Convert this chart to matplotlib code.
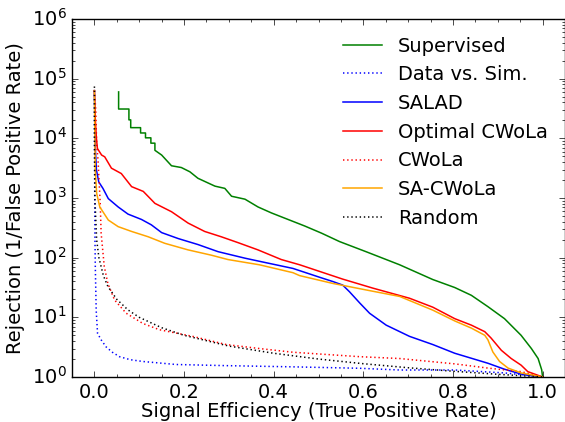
import numpy as np
import matplotlib
matplotlib.use("Agg")
import matplotlib.pyplot as plt
from matplotlib.ticker import MultipleLocator, LogLocator

# ---- data ----
sup_x = [0.054, 0.054, 0.077, 0.077, 0.081, 0.081, 0.103, 0.103, 0.114, 0.114,
         0.126, 0.126, 0.135, 0.135, 0.150, 0.172, 0.194, 0.213, 0.231, 0.254,
         0.269, 0.291, 0.306, 0.336, 0.365, 0.395, 0.432, 0.469, 0.507, 0.547,
         0.606, 0.681, 0.755, 0.804, 0.841, 0.878, 0.915, 0.952, 0.975, 0.990,
         0.998, 1.0]
sup_y = [60000, 31000, 31000, 20400, 20400, 15100, 15100, 12300, 12300, 10200,
         10200, 8300, 8300, 6300, 5250, 3470, 3240, 2750, 2140, 1780,
         1580, 1450, 1070, 955, 708, 562, 437, 340, 257, 186,
         126, 76, 43, 31.6, 23.4, 15.1, 9.5, 5.0, 3.0, 2.04,
         1.32, 1.0]

dvs_x = [0.0, 0.0005, 0.001, 0.002, 0.004, 0.007, 0.015, 0.026, 0.040, 0.056,
         0.080, 0.108, 0.182, 0.294, 0.443, 0.592, 0.681, 0.804, 0.915, 0.975, 1.0]
dvs_y = [63000, 3000, 300, 70, 13, 5.4, 4.2, 3.2, 2.6, 2.19,
         1.95, 1.82, 1.62, 1.55, 1.48, 1.40, 1.31, 1.31, 1.17, 1.05, 1.0]

salad_x = [0.0, 0.002, 0.0045, 0.0097, 0.019, 0.031, 0.053, 0.075, 0.105, 0.127,
           0.150, 0.187, 0.231, 0.276, 0.336, 0.368, 0.443, 0.503, 0.532, 0.554,
           0.569, 0.592, 0.614, 0.651, 0.703, 0.755, 0.804, 0.878, 0.915, 0.952, 1.0]
salad_y = [63000, 6760, 2950, 1860, 1450, 977, 708, 537, 437, 355,
           263, 209, 166, 126, 98, 87, 66, 46.8, 39.8, 34.7,
           26.9, 17.4, 11.7, 7.4, 4.8, 3.5, 2.5, 1.7, 1.35, 1.12, 1.0]

ocw_x = [0.0, 0.002, 0.0045, 0.0067, 0.016, 0.023, 0.038, 0.060, 0.083, 0.109,
         0.135, 0.172, 0.209, 0.246, 0.283, 0.321, 0.365, 0.417, 0.458, 0.554,
         0.621, 0.703, 0.755, 0.804, 0.841, 0.871, 0.885, 0.908, 0.930, 0.952,
         0.967, 0.982, 1.0]
ocw_y = [63000, 20400, 10000, 6760, 5250, 4900, 3160, 2570, 1550, 1290,
         813, 589, 380, 275, 224, 178, 135, 93, 76, 43.7,
         30.9, 20.9, 14.8, 9.5, 7.4, 5.75, 4.5, 2.8, 2.04, 1.58,
         1.23, 1.12, 1.0]

cw_x = [0.0, 0.003, 0.005, 0.008, 0.011, 0.013, 0.015, 0.022, 0.030, 0.045,
        0.071, 0.108, 0.145, 0.219, 0.294, 0.368, 0.443, 0.592, 0.681, 0.804,
        0.878, 0.952, 1.0]
cw_y = [63000, 30000, 8000, 4400, 1600, 800, 257, 71, 37, 19.5,
        11.7, 7.9, 6.2, 4.8, 3.5, 3.0, 2.6, 2.19, 2.04, 1.66,
        1.41, 1.23, 1.0]

sacw_x = [0.0, 0.001, 0.002, 0.005, 0.012, 0.031, 0.053, 0.083, 0.120, 0.157,
          0.209, 0.261, 0.298, 0.368, 0.443, 0.458, 0.532, 0.606, 0.681, 0.755,
          0.804, 0.841, 0.871, 0.878, 0.889, 0.904, 0.923, 0.952, 1.0]
sacw_y = [63000, 10000, 2950, 1200, 708, 427, 331, 275, 224, 174,
          135, 110, 93, 76, 56, 50, 37, 28.8, 22.4, 13.2,
          8.7, 6.6, 5.0, 4.2, 2.63, 1.82, 1.41, 1.17, 1.0]

rand_x = [0.0000135, 0.0001, 0.001, 0.005, 0.01, 0.02, 0.03, 0.05, 0.075, 0.1,
          0.15, 0.2, 0.3, 0.4, 0.5, 0.6, 0.7, 0.8, 0.9, 1.0]
rand_y = [74000, 10000, 1000, 200, 100, 50, 33, 20, 13.3, 10,
          6.7, 5, 3.3, 2.5, 2, 1.67, 1.43, 1.25, 1.11, 1.0]

series = [
    ("Supervised", sup_x, sup_y, "green", "-"),
    ("Data vs. Sim.", dvs_x, dvs_y, "blue", ":"),
    ("SALAD", salad_x, salad_y, "blue", "-"),
    ("Optimal CWoLa", ocw_x, ocw_y, "red", "-"),
    ("CWoLa", cw_x, cw_y, "red", ":"),
    ("SA-CWoLa", sacw_x, sacw_y, "orange", "-"),
    ("Random", rand_x, rand_y, "black", ":"),
]

plt.style.use("classic")
plt.rcParams["font.family"] = ["DejaVu Sans"]
plt.rcParams["mathtext.fontset"] = "dejavusans"
plt.rcParams["font.size"] = 14

fig = plt.figure(figsize=(5.65, 4.22), dpi=100, facecolor="white")
ax = fig.add_axes([72 / 565, 45 / 422, 493 / 565, 358 / 422])
ax.set_facecolor("white")

for label, x, y, c, ls in series:
    if ls == ":":
        ax.plot(x, y, color=c, lw=1.1, linestyle=(0, (1, 2)), label=label)
    else:
        ax.plot(x, y, color=c, lw=1.1, linestyle="-", label=label)

ax.set_yscale("log")
ax.set_xlim(-0.05, 1.05)
ax.set_ylim(1, 1e6)
ax.xaxis.set_major_locator(MultipleLocator(0.2))
ax.xaxis.set_minor_locator(MultipleLocator(0.05))
ax.yaxis.set_major_locator(LogLocator(base=10, numticks=10))
ax.tick_params(labelsize=14)
ax.set_xlabel("Signal Efficiency (True Positive Rate)", fontsize=14, labelpad=0.5)
ax.set_ylabel("Rejection (1/False Positive Rate)", fontsize=14)

ax.legend(loc="upper right", frameon=False, fontsize=14, handlelength=2.0,
          labelspacing=0.5, numpoints=1)

fig.savefig("out.png", dpi=100, facecolor="white")
